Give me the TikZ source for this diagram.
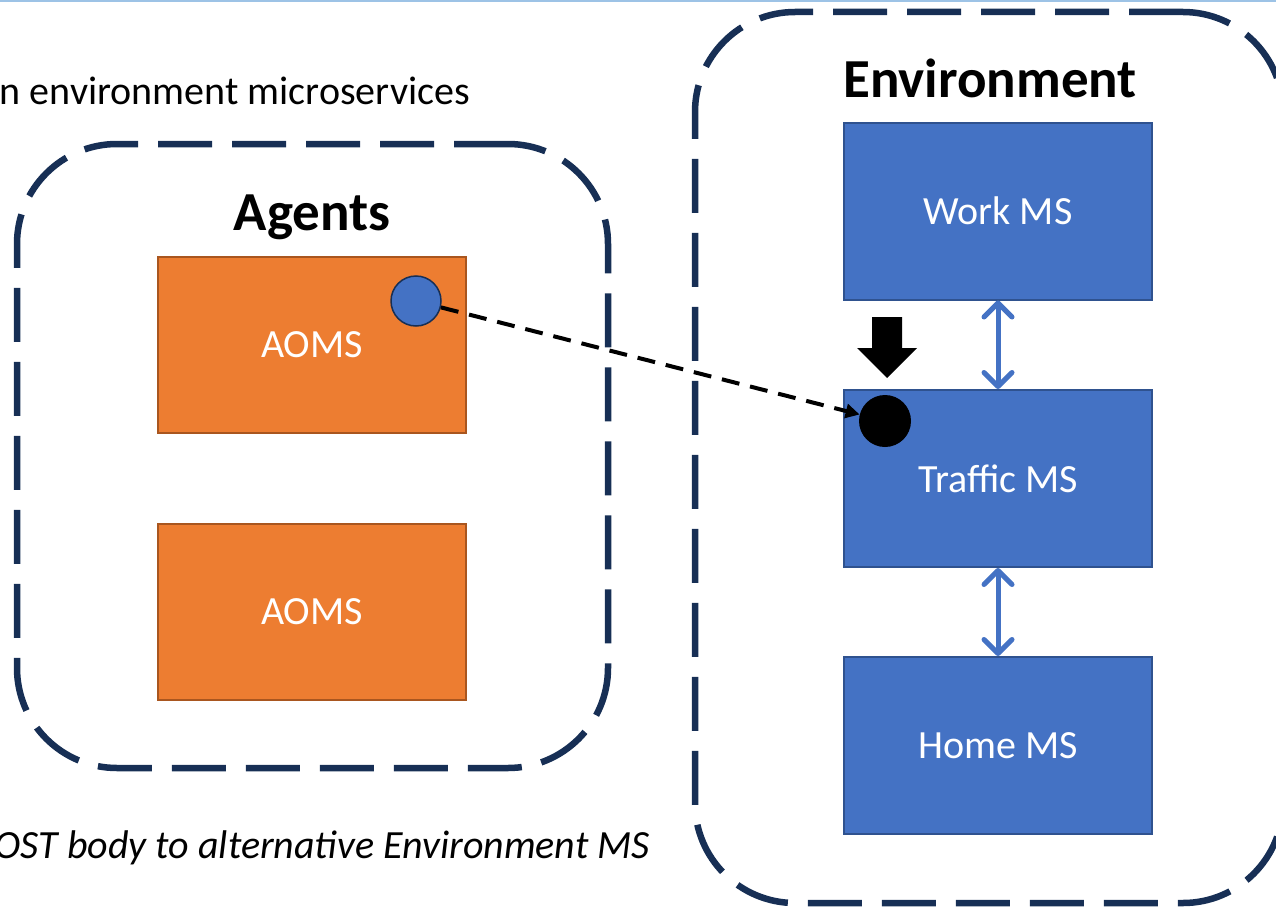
\documentclass[tikz,border=0pt]{standalone}
\usepackage{fontspec}
\setmainfont{Carlito}
\usetikzlibrary{arrows.meta}
\definecolor{navy}{HTML}{172F55}
\definecolor{msblue}{HTML}{4472C4}
\definecolor{msblueborder}{HTML}{2F528F}
\definecolor{msorange}{HTML}{ED7D31}
\definecolor{msorangeborder}{HTML}{A9561F}
\definecolor{topline}{HTML}{9DC3E6}
\tikzset{
  groupbox/.style={draw=navy, line width=6.5pt, dash pattern=on 54pt off 20pt, rounded corners=100pt, inner sep=0pt},
  title/.style={font=\fontsize{55}{62}\selectfont\bfseries, anchor=base, inner sep=0pt},
  agentbox/.style={draw=msorangeborder, fill=msorange, line width=1.5pt, minimum width=308pt, minimum height=176pt, text=white, font=\fontsize{40}{46}\selectfont, inner sep=0pt},
  envms/.style={draw=msblueborder, fill=msblue, line width=2pt, minimum width=308pt, minimum height=177pt, text=white, font=\fontsize{40}{46}\selectfont, inner sep=0pt},
  dblarrow/.style={draw=msblue, line width=5pt, {Straight Barb[length=14pt,width=28pt,round]}-{Straight Barb[length=14pt,width=28pt,round]}},
  note/.style={font=\fontsize{40}{48}\selectfont, inner sep=0pt}
}
\begin{document}
\begin{tikzpicture}[x=1pt,y=-1pt]
\useasboundingbox (0,0) rectangle (1276,907);
\clip (0,0) rectangle (1276,907);
\draw[topline, line width=2.5pt] (0,1) -- (1276,1);

% group boxes
\node[groupbox, minimum width=591pt, minimum height=624pt] (agentsbox) at (312.5,456) {};
\node[groupbox, minimum width=588pt, minimum height=891pt] (envbox) at (989,457.5) {};

% titles
\node[title] (agentstitle) at (312,230) {Agents};
\node[title] (envtitle) at (990,97) {Environment};

% notes
\node[note, anchor=base east] (topnote) at (470,104) {n environment microservices};
\node[note, anchor=base east, font=\fontsize{40}{48}\selectfont\itshape] (botnote) at (650,858) {OST body to alternative Environment MS};

% agent boxes
\node[agentbox] (aoms1) at (312,345) {AOMS};
\node[agentbox] (aoms2) at (312,612) {AOMS};

% environment microservices
\node[envms] (work) at (998,211) {Work MS};
\node[envms] (traffic) at (998,478.5) {Traffic MS};
\node[envms] (home) at (998,745.5) {Home MS};

% double arrows
\draw[dblarrow] (work.south) -- (traffic.north);
\draw[dblarrow] (traffic.south) -- (home.north);

% dots
\node[circle, draw=navy, fill=msblue, line width=1.5pt, minimum size=50pt, inner sep=0pt] (bluedot) at (416,301) {};
\node[circle, fill=black, minimum size=52pt, inner sep=0pt] (blackdot) at (885,421) {};

% dashed connection
\draw[line width=4pt, dash pattern=on 18pt off 11pt, -{Triangle[length=14pt,width=14pt]}] (bluedot) -- (blackdot);

% block arrow
\fill[black] (872,317) -- (902,317) -- (902,348) -- (917,348) -- (887,378) -- (857,348) -- (872,348) -- cycle;
\end{tikzpicture}
\end{document}
